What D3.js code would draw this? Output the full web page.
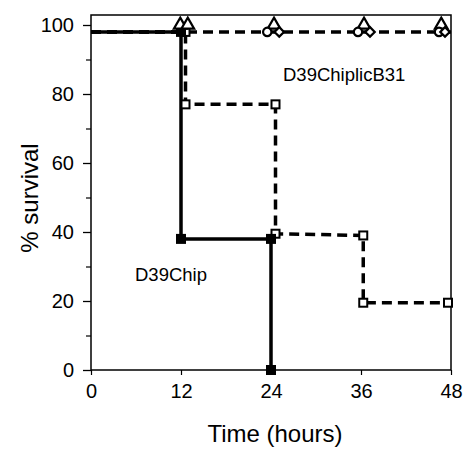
<!DOCTYPE html>
<html>
<head>
<meta charset="utf-8">
<script src="https://cdn.jsdelivr.net/npm/d3@7"></script>
<style>
  body { margin: 0; background: #fff; }
  text { font-family: "Liberation Sans", Arial, sans-serif; fill: #000; }
</style>
</head>
<body>
<div id="chart"></div>
<script>
// step points (time in hours, % survival)
const chipT = [0, 12, 12, 24, 24];
const chipS = [98, 98, 38, 38, 0];
const chipMarkT = [12, 12, 24, 24];
const chipMarkS = [98, 38, 38, 0];

const openT = [0, 12.6, 12.6, 24.6, 24.6, 36.3, 36.3, 47.6];
const openS = [98, 98, 77, 77, 39.5, 39, 19.5, 19.5];
const openMarkT = [12.6, 12.6, 24.6, 24.6, 36.3, 36.3, 47.6];
const openMarkS = [98, 77, 77, 39.5, 39, 19.5, 19.5];

const licT = [0, 48];
const licS = [98, 98];
const triT = [11.9, 12.9, 24.4, 36.4, 46.7];
const triS = [100, 100, 100, 100, 100];
const circT = [23.5, 35.6, 46.4];
const circS = [98, 98, 98];
const diaT = [25.1, 37.2, 47.2];
const diaS = [98, 98, 98];

const xTicks = [0, 12, 24, 36, 48];
const yTicks = [0, 20, 40, 60, 80, 100];
const yMinor = [10, 30, 50, 70, 90];

const W = 463, H = 450;
const m = { left: 91, right: 12, top: 15, bottom: 80 };

const x = d3.scaleLinear().domain([0, 48]).range([m.left, W - m.right]);
const y = d3.scaleLinear().domain([0, 100]).range([370, 25]);

const svg = d3.select("#chart").append("svg")
  .attr("width", W).attr("height", H);

// frame
svg.append("rect")
  .attr("x", m.left).attr("y", m.top)
  .attr("width", W - m.right - m.left).attr("height", 370 - m.top)
  .attr("fill", "none").attr("stroke", "#000").attr("stroke-width", 1.5);

// y axis
const yAxis = svg.append("g").attr("transform", `translate(${m.left},0)`)
  .call(d3.axisLeft(y).tickValues(yTicks).tickSize(8).tickPadding(9));
yAxis.selectAll(".tick line").attr("stroke-width", 1.3);
yAxis.select(".domain").remove();
yAxis.selectAll("text").style("font-size", "20px");
svg.append("g").attr("transform", `translate(${m.left},0)`)
  .call(d3.axisLeft(y).tickValues(yMinor).tickSize(5).tickFormat(""))
  .call(g => g.select(".domain").remove())
  .selectAll(".tick line").attr("stroke-width", 1.2);

// x axis
const xAxis = svg.append("g").attr("transform", "translate(0,370)")
  .call(d3.axisBottom(x).tickValues(xTicks).tickSize(5).tickPadding(9));
xAxis.select(".domain").remove();
xAxis.selectAll(".tick line").attr("stroke-width", 1.2);
xAxis.selectAll("text").style("font-size", "20px");

// titles
svg.append("text")
  .attr("x", 275).attr("y", 442)
  .attr("text-anchor", "middle").style("font-size", "24px")
  .text("Time (hours)");
svg.append("text")
  .attr("transform", `translate(38,198) rotate(-90)`)
  .attr("text-anchor", "middle").style("font-size", "24px")
  .text("% survival");

const line = d3.line().x(d => x(d[0])).y(d => y(d[1]));
const pts = (t, s) => t.map((v, i) => [v, s[i]]);

// D39ChiplicB31 dashed line
svg.append("path").datum(pts(licT, licS))
  .attr("d", line).attr("fill", "none").attr("stroke", "#000")
  .attr("stroke-width", 3.5).attr("stroke-dasharray", "10,6");

// open squares dashed step
svg.append("path").datum(pts(openT, openS))
  .attr("d", line).attr("fill", "none").attr("stroke", "#000")
  .attr("stroke-width", 3.5).attr("stroke-dasharray", "10,6");

// D39Chip solid step
svg.append("path").datum(pts(chipT, chipS))
  .attr("d", line).attr("fill", "none").attr("stroke", "#000")
  .attr("stroke-width", 3.5);

// markers
svg.append("g").selectAll("rect")
  .data(pts(openMarkT, openMarkS)).join("rect")
  .attr("x", d => x(d[0]) - 4).attr("y", d => y(d[1]) - 4)
  .attr("width", 8).attr("height", 8)
  .attr("fill", "#fff").attr("stroke", "#000").attr("stroke-width", 2);

svg.append("g").selectAll("rect")
  .data(pts(chipMarkT, chipMarkS)).join("rect")
  .attr("x", d => x(d[0]) - 5).attr("y", d => y(d[1]) - 5)
  .attr("width", 10).attr("height", 10).attr("fill", "#000");

const sym = (type, size) => d3.symbol().type(type).size(size)();

svg.append("g").selectAll("path")
  .data(pts(triT, triS)).join("path")
  .attr("transform", d => `translate(${x(d[0])},${y(d[1])})`)
  .attr("d", sym(d3.symbolTriangle, 70))
  .attr("fill", "#fff").attr("stroke", "#000").attr("stroke-width", 2.2);

svg.append("g").selectAll("path")
  .data(pts(circT, circS)).join("path")
  .attr("transform", d => `translate(${x(d[0])},${y(d[1])})`)
  .attr("d", sym(d3.symbolCircle, 55))
  .attr("fill", "#fff").attr("stroke", "#000").attr("stroke-width", 2.2);

svg.append("g").selectAll("path")
  .data(pts(diaT, diaS)).join("path")
  .attr("transform", d => `translate(${x(d[0])},${y(d[1])}) rotate(45)`)
  .attr("d", sym(d3.symbolSquare, 45))
  .attr("fill", "#fff").attr("stroke", "#000").attr("stroke-width", 2.2);

// labels
svg.append("text").attr("x", 283).attr("y", 81)
  .style("font-size", "18.5px").text("D39ChiplicB31");
svg.append("text").attr("x", 135).attr("y", 281)
  .style("font-size", "18.5px").text("D39Chip");
</script>
</body>
</html>
